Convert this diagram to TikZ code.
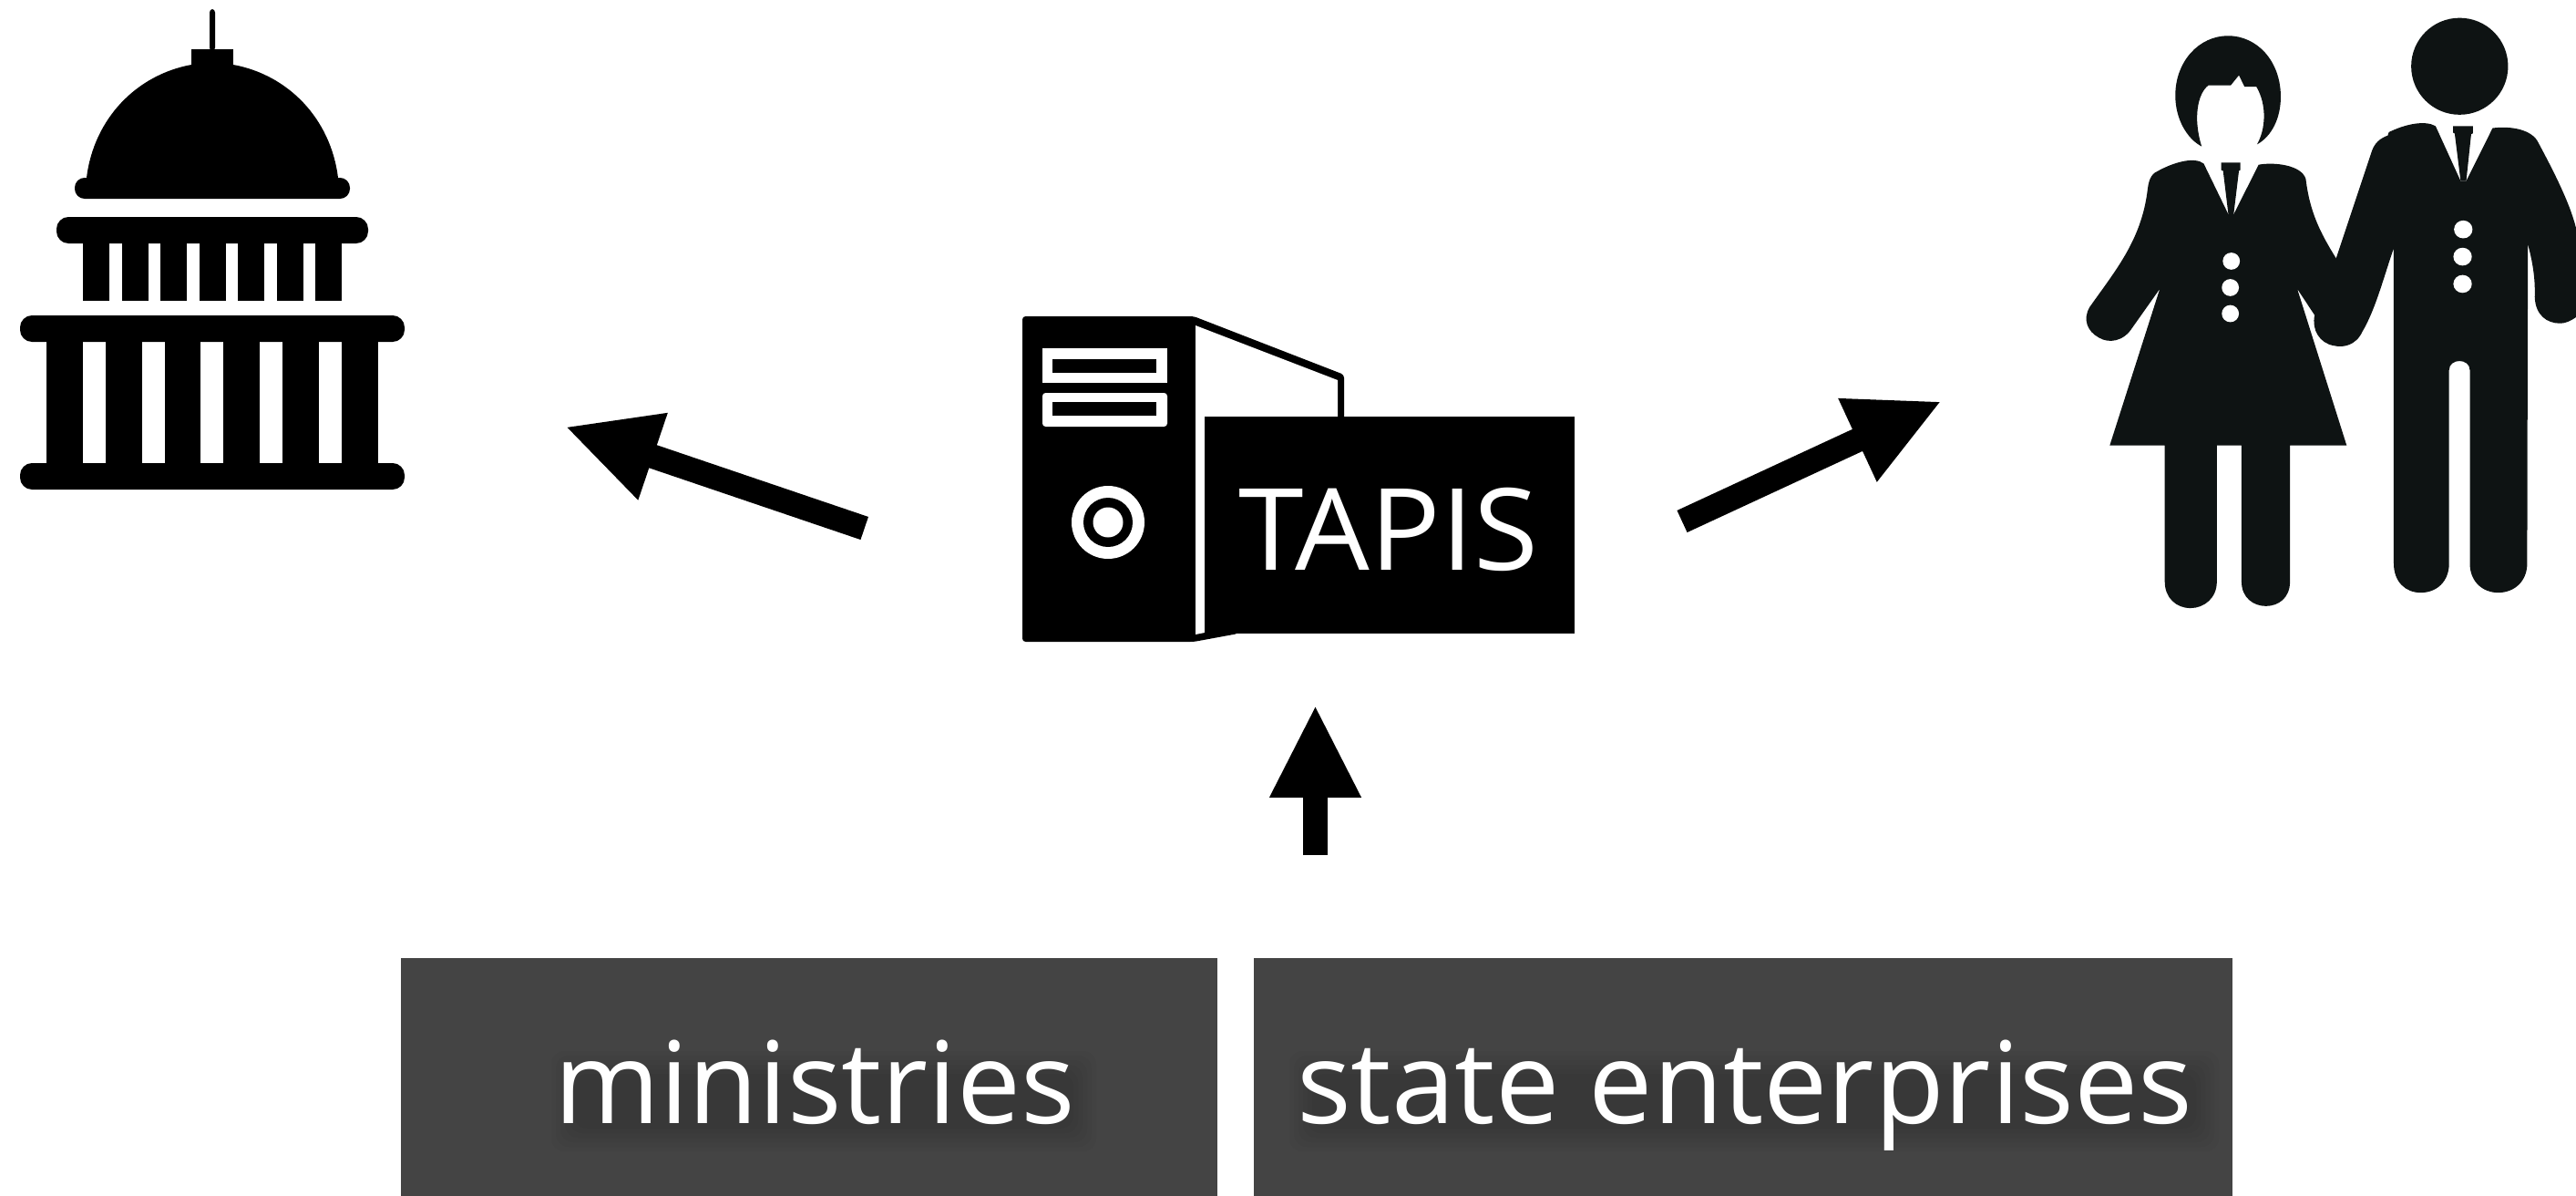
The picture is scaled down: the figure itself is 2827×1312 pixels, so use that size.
\documentclass[tikz,border=0pt]{standalone}
\usepackage{fontspec}
\usepackage{graphicx}
\setmainfont{Open Sans}
\usetikzlibrary{arrows.meta}
\definecolor{boxgrey}{HTML}{444444}
\definecolor{peopleblack}{HTML}{0E1313}
\tikzset{
  bigarrow/.style={line width=.53cm,draw=black,-{Triangle[length=2.04cm,width=1.86cm]}},
  bandbox/.style={draw=none,fill=boxgrey,anchor=north west,inner sep=0pt,minimum height=5.22cm},
  boxlabel/.style={text=white,inner sep=0pt,anchor=base,font=\fontsize{71}{80}\selectfont},
  tapislabel/.style={text=white,inner sep=0pt,anchor=base,font=\fontsize{71}{80}\selectfont},
  glow/.style={fill=black,draw=none,fill opacity=.028}
}
\begin{document}
\begin{tikzpicture}[x=.02cm,y=-.02cm]
\useasboundingbox (0,0) rectangle (2827,1312);
\fill[white] (0,0) rectangle (2827,1312);

% ---- capitol
\begin{scope}[fill=black]
  \fill[rounded corners=2pt] (230,10) rectangle (236,56);
  \fill (210,54) rectangle (256,74);
  \fill[rounded corners=6.2pt] (82,195) rectangle (384,218);
  \fill (95,200) -- (95,195) .. controls (103,130) and (150,82) .. (210,71) -- (256,71)
     .. controls (316,82) and (363,130) .. (371,195) -- (371,200) -- cycle;
  \fill[rounded corners=7.5pt] (62,238) rectangle (404,267);
  \foreach \xa in {91,134,176,219,261,304,346}
    \fill (\xa,262) rectangle ++(29,68);
  \fill[rounded corners=7.5pt] (22,346) rectangle (444,375);
  \fill[rounded corners=7.5pt] (22,508) rectangle (444,537);
  \fill (51,370) rectangle (91,515);
  \fill (116,370) rectangle (156,515);
  \fill (181,370) rectangle (220,515);
  \fill (245,370) rectangle (285,515);
  \fill (310,370) rectangle (350,515);
  \fill (375,370) rectangle (415,515);
\end{scope}

% ---- server tower
\fill[rounded corners=2pt] (1122,347) -- (1310,347) -- (1475,411) -- (1475,470) -- (1359,695) -- (1310,704) -- (1122,704) -- cycle;
\fill[white] (1312,357) -- (1468,417) -- (1468,470) -- (1322,470) -- (1322,694) -- (1312,696) -- cycle;
\fill[white] (1144,382) rectangle (1281,420);
\fill (1155,394) rectangle (1269,409);
\fill[white,rounded corners=2pt] (1144,431) rectangle (1281,468);
\fill (1155,441) rectangle (1269,456);
\fill[white] (1216,573) circle (40);
\fill (1216,573) circle (27);
\fill[white] (1216,573) circle (16.5);
\node[fill=black,inner sep=0pt,anchor=north west,minimum width=8.12cm,minimum height=4.76cm] (folder) at (1322,457) {};
\node[tapislabel] (tapis) at (1523.5,625) {\scalebox{1.035}[1]{TAPIS}};

% ---- people
\begin{scope}[shift={(2260,0)},x=.00723cm,y=-.00893cm]
  \fill[peopleblack] (432,360) .. controls (385,340) and (352,290) .. (352,235)
    .. controls (352,150) and (425,88) .. (512,88)
    .. controls (600,88) and (672,150) .. (672,238)
    .. controls (672,290) and (645,335) .. (600,355)
    .. controls (625,320) and (632,260) .. (598,213) -- (562,213) -- (545,185) -- (520,210) -- (452,210)
    .. controls (420,230) and (405,290) .. (432,360) -- cycle;
  \fill[peopleblack] (438,402) -- (513,527) -- (529,527) -- (605,405)
    .. controls (650,398) and (735,405) .. (748,440)
    .. controls (760,520) and (790,570) .. (840,635) -- (900,750) -- (775,775) -- (722,710)
    -- (872,1095) -- (700,1095) -- (700,1430)
    .. controls (700,1470) and (665,1490) .. (627,1490)
    .. controls (590,1490) and (553,1470) .. (553,1430) -- (553,1095) -- (478,1095) -- (478,1430)
    .. controls (478,1470) and (440,1495) .. (398,1495)
    .. controls (355,1495) and (320,1470) .. (320,1430) -- (320,1095) -- (153,1095) -- (305,710) -- (222,805)
    .. controls (195,840) and (150,845) .. (120,830)
    .. controls (85,815) and (70,785) .. (92,755)
    .. controls (170,665) and (250,590) .. (268,465)
    .. controls (272,435) and (285,425) .. (300,420)
    .. controls (350,398) and (410,385) .. (438,402) -- cycle;
  \fill[peopleblack] (491,400) -- (549,400) -- (549,418) -- (545,420) -- (529,527) -- (513,527) -- (497,420) -- (491,418) -- cycle;
  \fill[peopleblack] (1215,163) ellipse [x radius=147,y radius=119];
  \fill[peopleblack] (1142,310) -- (1218,445) -- (1235,445) -- (1315,315)
    .. controls (1360,310) and (1425,315) .. (1450,345)
    .. controls (1500,420) and (1550,500) .. (1568,560) -- (1568,780)
    .. controls (1550,790) and (1535,795) .. (1520,795)
    .. controls (1480,795) and (1445,775) .. (1443,730)
    .. controls (1445,680) and (1435,640) .. (1422,600) -- (1420,1385)
    .. controls (1420,1430) and (1380,1457) .. (1332,1457)
    .. controls (1285,1457) and (1246,1430) .. (1246,1385) -- (1246,910)
    .. controls (1246,880) and (1183,880) .. (1183,910) -- (1183,1385)
    .. controls (1183,1430) and (1145,1457) .. (1097,1457)
    .. controls (1050,1457) and (1015,1430) .. (1015,1385) -- (1015,610)
    .. controls (985,680) and (960,760) .. (920,815)
    .. controls (900,850) and (860,855) .. (835,850)
    .. controls (790,845) and (765,810) .. (775,775) -- (840,635) -- (945,380)
    .. controls (955,350) and (975,340) .. (997,333) -- (1000,325)
    .. controls (1050,305) and (1110,295) .. (1142,310) -- cycle;
  \fill[peopleblack] (1195,310) -- (1255,310) -- (1255,328) -- (1250,330) -- (1235,445) -- (1218,445) -- (1200,328) -- (1195,326) -- cycle;
  \foreach \cx/\cy in {522/642,519/707,519/771}
    \fill[white] (\cx,\cy) ellipse [x radius=26,y radius=21];
  \foreach \cx/\cy in {1226/564,1224/631,1224/698}
    \fill[white] (\cx,\cy) ellipse [x radius=28,y radius=22];
\end{scope}

% ---- bottom boxes
\node[bandbox,minimum width=17.92cm] (boxm) at (440,1051) {};
\node[bandbox,minimum width=21.48cm] (boxs) at (1376,1051) {};
\foreach \g in {0,5,...,25}{
  \fill[glow,rounded corners=8pt] (630-\g,1178-\g) rectangle (1178+\g,1238+\g);
  \fill[glow,rounded corners=8pt] (1440-\g,1178-\g) rectangle (2410+\g,1238+\g);
}
\node[boxlabel] (ministries) at (894,1232) {ministries};
\node[boxlabel] (state) at (1915,1232) {\scalebox{1.005}[1]{state enterprises}};

% ---- arrows
\coordinate (la) at (948.7,579.5);
\coordinate (lb) at (620,468);
\coordinate (ra) at (1846,572);
\coordinate (rb) at (2131,440);
\coordinate (ua) at (1443.5,938);
\coordinate (ub) at (1443.5,773);
\draw[bigarrow] (la) -- (lb);
\draw[bigarrow] (ra) -- (rb);
\draw[bigarrow] (ua) -- (ub);
\end{tikzpicture}
\end{document}
